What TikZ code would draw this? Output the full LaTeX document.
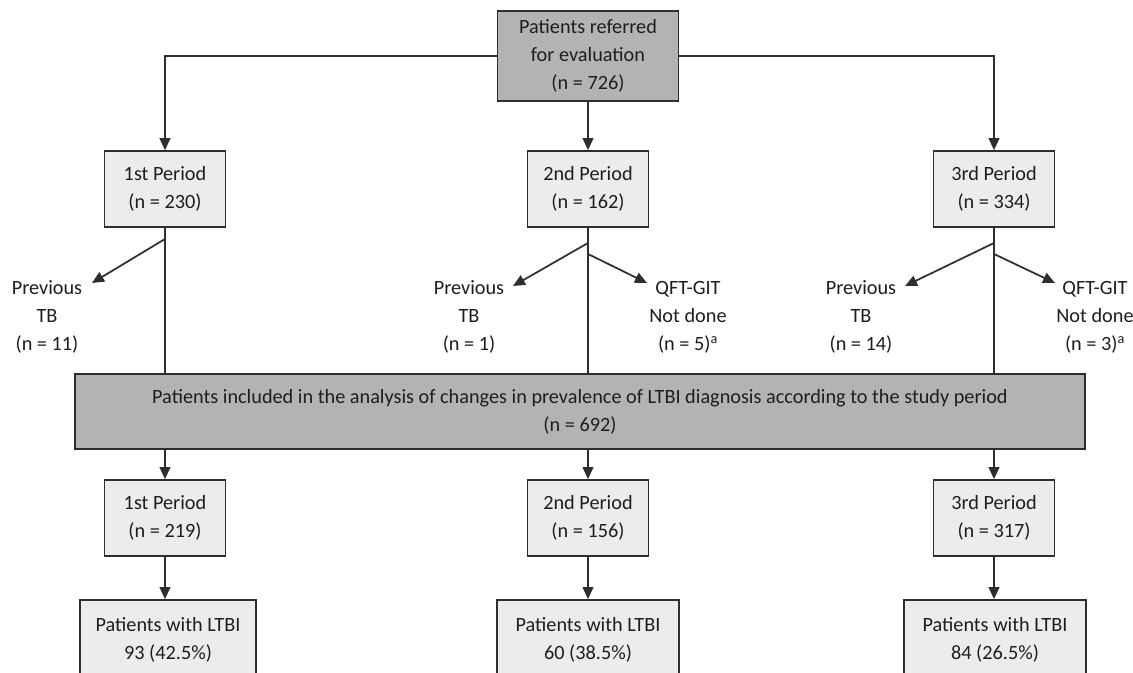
\documentclass[tikz,border=0pt]{standalone}
\usepackage{fontspec}
\setmainfont{Carlito}
\usetikzlibrary{arrows.meta}
\definecolor{linegray}{HTML}{2E2E2E}
\definecolor{darkfill}{HTML}{B3B3B3}
\definecolor{lightfill}{HTML}{ECECEC}
\definecolor{inkgray}{HTML}{1E1E1E}
\begin{document}
\begin{tikzpicture}[x=0.75pt,y=-0.75pt,
  font=\fontsize{15.2pt}{21pt}\selectfont,
  every node/.style={text=inkgray},
  box/.style={draw=linegray, line width=1.2pt, align=center, inner sep=0pt},
  darkbox/.style={box, fill=darkfill},
  lightbox/.style={box, fill=lightfill},
  periodbox/.style={lightbox, minimum width=121*0.75pt, minimum height=76*0.75pt},
  ltbibox/.style={lightbox, minimum width=180*0.75pt, minimum height=79*0.75pt},
  sidelabel/.style={align=center, inner sep=0pt},
  link/.style={draw=linegray, line width=1.3pt},
  arrowlink/.style={link, -{Triangle[length=9pt, width=8pt]}}
]
\clip (0,0) rectangle (1133,673);
\useasboundingbox (0,0) rectangle (1133,673);

% referral box
\node[darkbox, minimum width=181*0.75pt, minimum height=90*0.75pt] (top) at (588,56)
  {Patients referred\\for evaluation\\(n = 726)};

% first-level periods
\node[periodbox] (p1) at (165,189) {1st Period\\(n = 230)};
\node[periodbox] (p2) at (588,189) {2nd Period\\(n = 162)};
\node[periodbox] (p3) at (994,189) {3rd Period\\(n = 334)};

% analysis box
\node[darkbox, minimum width=1010*0.75pt, minimum height=75*0.75pt] (big) at (580,411.5)
  {Patients included in the analysis of changes in prevalence of LTBI diagnosis according to the study period\\(n = 692)};

% second-level periods
\node[periodbox] (q1) at (165,518) {1st Period\\(n = 219)};
\node[periodbox] (q2) at (588,518) {2nd Period\\(n = 156)};
\node[periodbox] (q3) at (994,518) {3rd Period\\(n = 317)};

% LTBI outcome boxes
\node[ltbibox, minimum width=176*0.75pt] (r1) at (168,639.5) {Patients with LTBI\\93 (42.5\%)};
\node[ltbibox, minimum width=182*0.75pt] (r2) at (588,639.5) {Patients with LTBI\\60 (38.5\%)};
\node[ltbibox, minimum width=182*0.75pt] (r3) at (995,639.5) {Patients with LTBI\\84 (26.5\%)};

% exclusion labels
\node[sidelabel] (x1) at (47,317) {Previous\\TB\\(n = 11)};
\node[sidelabel] (x2a) at (469,317) {Previous\\TB\\(n = 1)};
\node[sidelabel] (x2b) at (688,317) {QFT-GIT\\Not done\\(n = 5)\textsuperscript{a}};
\node[sidelabel] (x3a) at (861,317) {Previous\\TB\\(n = 14)};
\node[sidelabel] (x3b) at (1095,317) {QFT-GIT\\Not done\\(n = 3)\textsuperscript{a}};

% split points and arrow ends
\coordinate (s1) at (165,239);
\coordinate (s2a) at (588,243);
\coordinate (s2b) at (588,254);
\coordinate (s3a) at (994,243);
\coordinate (s3b) at (994,254);
\coordinate (e1) at (92,283);
\coordinate (e2a) at (513,286);
\coordinate (e2b) at (647,283);
\coordinate (e3a) at (905,286);
\coordinate (e3b) at (1055,283);

% referral to periods
\draw[arrowlink] (top.west) -| (p1.north);
\draw[arrowlink] (top.east) -| (p3.north);
\draw[arrowlink] (top.south) -- (p2.north);

% periods down to the analysis box
\draw[link] (p1.south) -- (p1.south |- big.north);
\draw[link] (p2.south) -- (p2.south |- big.north);
\draw[link] (p3.south) -- (p3.south |- big.north);

% exclusions
\draw[arrowlink] (s1) -- (e1);
\draw[arrowlink] (s2a) -- (e2a);
\draw[arrowlink] (s2b) -- (e2b);
\draw[arrowlink] (s3a) -- (e3a);
\draw[arrowlink] (s3b) -- (e3b);

% analysis box to second-level periods
\draw[arrowlink] (big.south -| q1.north) -- (q1.north);
\draw[arrowlink] (big.south -| q2.north) -- (q2.north);
\draw[arrowlink] (big.south -| q3.north) -- (q3.north);

% periods to outcomes
\draw[arrowlink] (q1.south) -- (q1.south |- r1.north);
\draw[arrowlink] (q2.south) -- (q2.south |- r2.north);
\draw[arrowlink] (q3.south) -- (q3.south |- r3.north);
\end{tikzpicture}
\end{document}
